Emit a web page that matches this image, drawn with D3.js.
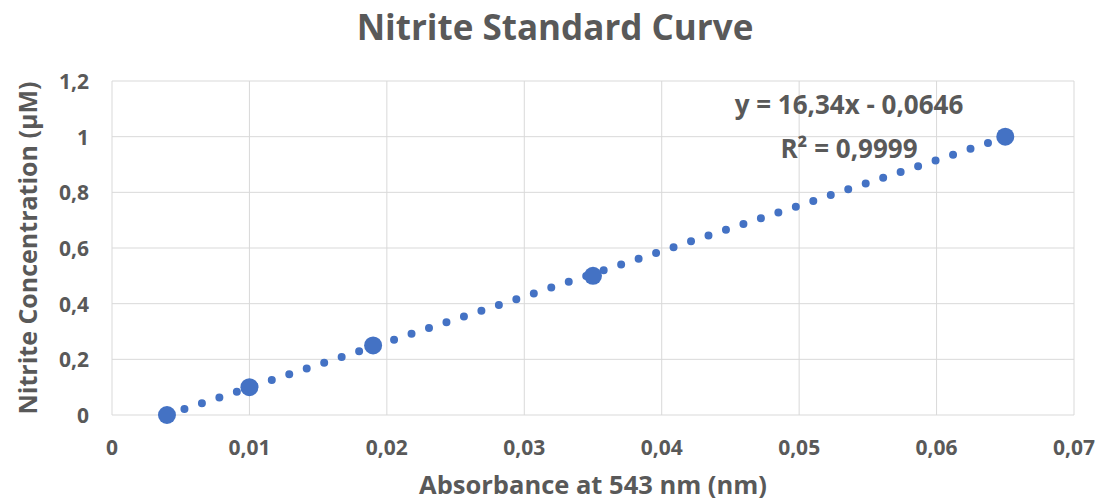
<!DOCTYPE html>
<html>
<head>
<meta charset="utf-8">
<script src="https://cdn.jsdelivr.net/npm/d3@7"></script>
<style>
  body { margin: 0; background: #fff; }
  text { font-family: "Open Sans", "Noto Sans", sans-serif; font-weight: bold; fill: #595959; }
</style>
</head>
<body>
<div id="chart"></div>
<script>
"use strict";

// data
const absorbance = [0.004, 0.010, 0.019, 0.035, 0.065];
const concentration = [0, 0.1, 0.25, 0.5, 1];
const xTicks = [0, 0.01, 0.02, 0.03, 0.04, 0.05, 0.06, 0.07];
const yTicks = [0, 0.2, 0.4, 0.6, 0.8, 1, 1.2];
const slope = 16.34;
const intercept = -0.0646;
const equationLines = ["y = 16,34x - 0,0646", "R² = 0,9999"];

const width = 1098, height = 500;
const margin = {top: 81, right: 24, bottom: 85, left: 112};
const blue = "#4472C4";

const svg = d3.select("#chart")
    .append("svg")
    .attr("width", width)
    .attr("height", height);

const x = d3.scaleLinear()
    .domain([0, 0.07])
    .range([margin.left, width - margin.right]);

const y = d3.scaleLinear()
    .domain([0, 1.2])
    .range([height - margin.bottom, margin.top]);

const comma = d => String(+d.toFixed(2)).replace(".", ",");

// grid
svg.append("g")
    .selectAll("line")
    .data(yTicks)
    .enter()
    .append("line")
    .attr("x1", x(0))
    .attr("x2", x(0.07))
    .attr("y1", d => y(d))
    .attr("y2", d => y(d))
    .style("stroke", "#d9d9d9")
    .style("stroke-width", 1);

svg.append("g")
    .selectAll("line")
    .data(xTicks)
    .enter()
    .append("line")
    .attr("x1", d => x(d))
    .attr("x2", d => x(d))
    .attr("y1", y(0))
    .attr("y2", y(1.2))
    .style("stroke", "#d9d9d9")
    .style("stroke-width", 1);

// tick labels
svg.append("g")
    .selectAll("text")
    .data(xTicks)
    .enter()
    .append("text")
    .attr("x", d => x(d))
    .attr("y", 455)
    .attr("text-anchor", "middle")
    .style("font-size", "21px")
    .text(comma);

svg.append("g")
    .selectAll("text")
    .data(yTicks)
    .enter()
    .append("text")
    .attr("x", 89)
    .attr("y", d => y(d))
    .attr("text-anchor", "end")
    .attr("dominant-baseline", "central")
    .style("font-size", "21px")
    .text(comma);

// trendline (dotted)
const xMin = d3.min(absorbance), xMax = d3.max(absorbance);
svg.append("line")
    .attr("x1", x(xMin))
    .attr("y1", y(slope * xMin + intercept))
    .attr("x2", x(xMax))
    .attr("y2", y(slope * xMax + intercept))
    .style("stroke", blue)
    .style("stroke-width", 8)
    .style("stroke-linecap", "round")
    .style("stroke-dasharray", "0 18.4");

// points
svg.append("g")
    .selectAll("circle")
    .data(absorbance)
    .enter()
    .append("circle")
    .attr("cx", d => x(d))
    .attr("cy", (d, i) => y(concentration[i]))
    .attr("r", 9)
    .style("fill", blue);

// equation
svg.append("g")
    .selectAll("text")
    .data(equationLines)
    .enter()
    .append("text")
    .attr("x", 849)
    .attr("y", (d, i) => 114 + i * 44)
    .attr("text-anchor", "middle")
    .style("font-size", "26px")
    .text(d => d);

// titles
svg.append("text")
    .attr("x", 555)
    .attr("y", 40)
    .attr("text-anchor", "middle")
    .style("font-size", "35px")
    .text("Nitrite Standard Curve");

svg.append("text")
    .attr("transform", "translate(37," + ((y(0) + y(1.2)) / 2) + ") rotate(-90)")
    .attr("text-anchor", "middle")
    .style("font-size", "25px")
    .text("Nitrite Concentration (µM)");

svg.append("text")
    .attr("x", 593)
    .attr("y", 494)
    .attr("text-anchor", "middle")
    .style("font-size", "25.5px")
    .text("Absorbance at 543 nm (nm)");
</script>
</body>
</html>
